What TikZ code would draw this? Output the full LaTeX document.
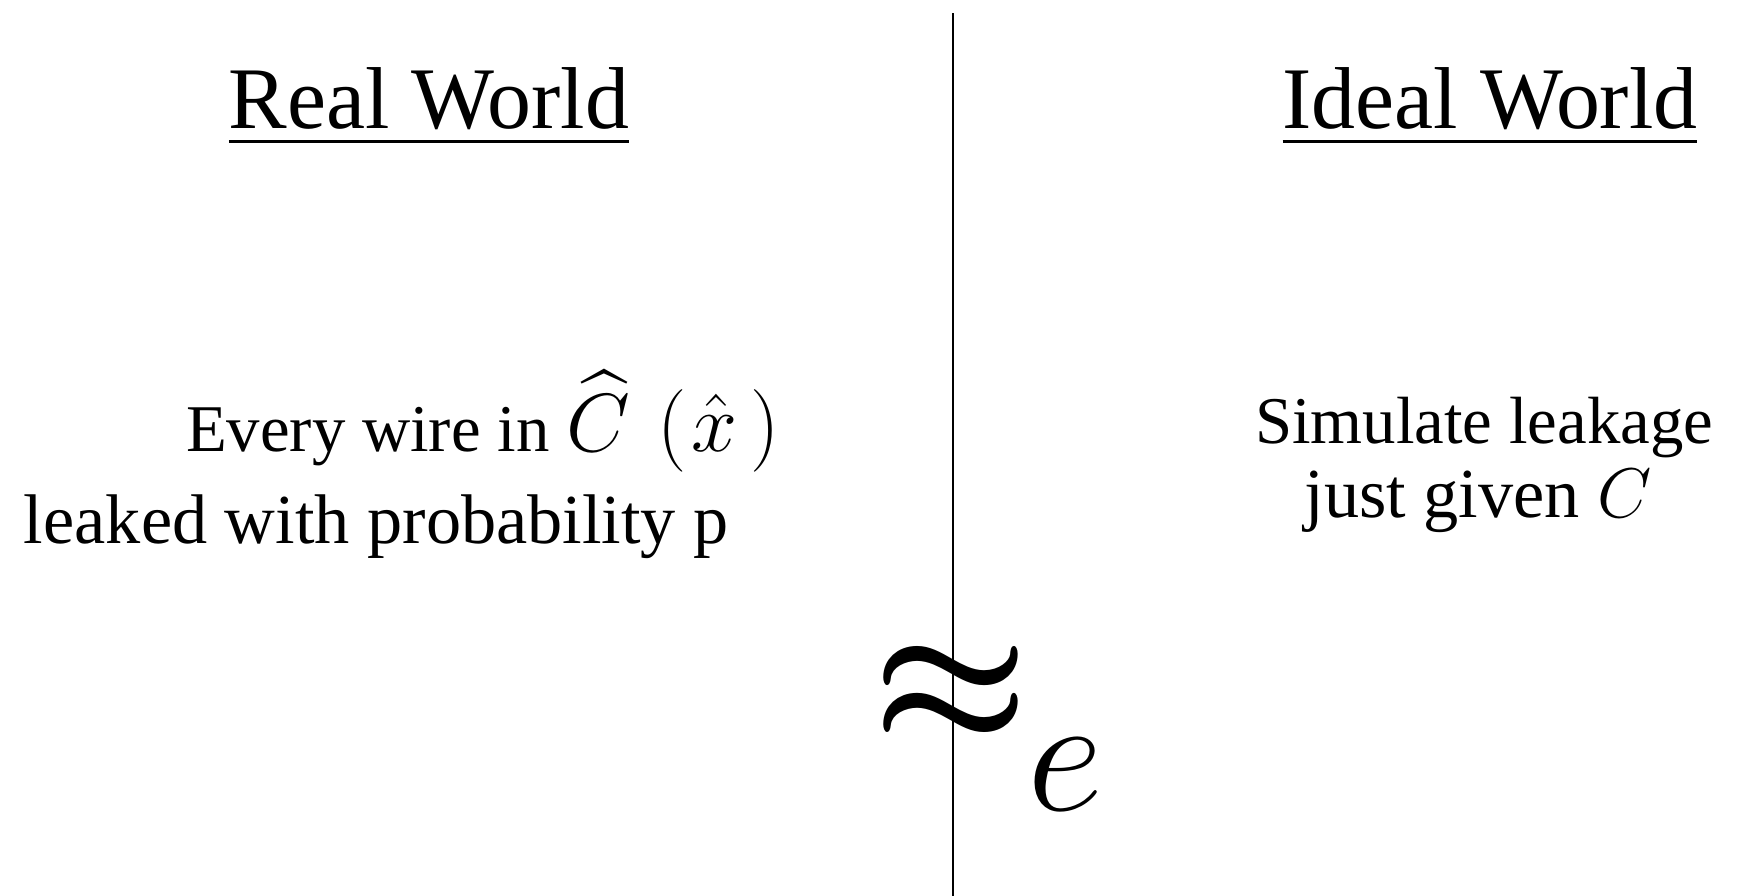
\RequirePackage{fix-cm}
\documentclass[tikz,border=0pt]{standalone}
\usepackage{amsmath,amssymb}
\usepackage{fontspec}
\setmainfont{Liberation Serif}
\usetikzlibrary{positioning}

\begin{document}
\begin{tikzpicture}[x=0.02cm, y=-0.02cm, every node/.style={inner sep=0pt, outer sep=0pt},
  title/.style={anchor=base, font=\fontsize{50}{60}\selectfont},
  body/.style={font=\fontsize{40}{50}\selectfont}]
  \useasboundingbox (0,0) rectangle (1738,896);
  % divider
  \coordinate (top) at (953,13);
  \coordinate (bottom) at (953,896);
  \draw[line width=1.6pt] (top) -- (bottom);
  % the two worlds
  \node[title] (real) at (429,128) {\underline{Real World}};
  \node[title] (ideal) at (1490,128) {\underline{Ideal World}};
  \node[body, anchor=base west, font=\fontsize{38}{50}\selectfont] (every) at (186,451)
    {Every wire in {\fontsize{47}{50}\selectfont$\widehat{C}\,\left(\mkern1mu\hat{x}\,\right)$}};
  \node[body, anchor=base west] (leaked) at (24,543) {leaked with probability p};
  \node[anchor=base, font=\fontsize{38}{44}\selectfont] (simulate) at (1484,443) {Simulate leakage};
  \node[anchor=base, font=\fontsize{40}{44}\selectfont] (given) at (1478,517) {just given $C$};
  % approximately equal
  \node[font=\fontsize{100}{100}\selectfont] (approx) at (951,695) {$\boldsymbol{\approx}$};
  \node[font=\fontsize{95}{100}\selectfont] (sub) at (1065,775) {$e$};
\end{tikzpicture}
\end{document}
